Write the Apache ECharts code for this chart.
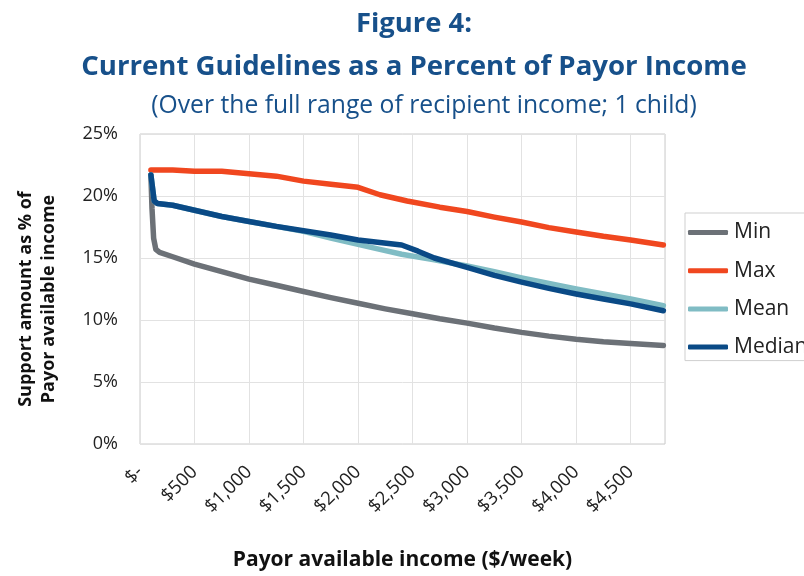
<!DOCTYPE html>
<html>
<head>
<meta charset="utf-8">
<script src="https://cdn.jsdelivr.net/npm/echarts@6/dist/echarts.min.js"></script>
<style>
  html, body { margin: 0; padding: 0; background: #ffffff; }
  #chart { width: 804px; height: 576px; }
</style>
</head>
<body>
<div id="chart"></div>
<script>
// Support as a percent of payor available income, by weekly payor income ($).
// Each series is a list of [income, percent] points.
const minSeries = [
  [100, 21.7], [110, 19.0], [125, 16.6], [145, 15.7], [180, 15.45], [300, 15.1],
  [500, 14.5], [750, 13.9], [1000, 13.3], [1250, 12.8], [1500, 12.3], [1750, 11.8],
  [2000, 11.35], [2250, 10.9], [2500, 10.5], [2750, 10.1], [3000, 9.75], [3250, 9.35],
  [3500, 9.0], [3750, 8.7], [4000, 8.45], [4250, 8.25], [4500, 8.1], [4800, 7.95]
];
const maxSeries = [
  [100, 22.1], [300, 22.1], [500, 22.0], [750, 22.0], [1000, 21.8], [1250, 21.6],
  [1500, 21.2], [1750, 20.95], [2000, 20.7], [2200, 20.1], [2450, 19.6], [2750, 19.1],
  [3000, 18.75], [3250, 18.3], [3500, 17.9], [3750, 17.45], [4000, 17.1], [4250, 16.75],
  [4500, 16.45], [4800, 16.05]
];
const meanSeries = [
  [100, 21.7], [130, 19.6], [160, 19.4], [300, 19.25], [500, 18.85], [750, 18.35],
  [1000, 17.95], [1250, 17.55], [1500, 17.15], [1750, 16.6], [2000, 16.1], [2200, 15.7],
  [2400, 15.3], [2700, 14.85], [3000, 14.35], [3250, 13.9], [3500, 13.4], [3750, 12.95],
  [4000, 12.5], [4250, 12.1], [4500, 11.7], [4800, 11.15]
];
const medianSeries = [
  [100, 21.7], [130, 19.6], [160, 19.4], [300, 19.25], [500, 18.85], [750, 18.35],
  [1000, 17.95], [1250, 17.55], [1500, 17.2], [1750, 16.85], [2000, 16.45], [2200, 16.25],
  [2400, 16.05], [2550, 15.55], [2700, 15.0], [3000, 14.25], [3250, 13.6], [3500, 13.05],
  [3750, 12.55], [4000, 12.1], [4250, 11.7], [4500, 11.3], [4800, 10.75]
];
const seriesNames = ['Min', 'Max', 'Mean', 'Median'];
const seriesColors = ['#6c7177', '#f0471f', '#80bcc4', '#0a4a86'];

const titleText = 'Figure 4:';
const subtitleText = 'Current Guidelines as a Percent of Payor Income';
const noteText = '(Over the full range of recipient income; 1 child)';
const xAxisTitle = 'Payor available income ($/week)';
const yAxisTitle = 'Support amount as % of\nPayor available income';

const FONT = '"Open Sans", "Noto Sans", sans-serif';
const chart = echarts.init(document.getElementById('chart'), null, { renderer: 'canvas' });

const seriesData = [minSeries, maxSeries, meanSeries, medianSeries];

chart.setOption({
  backgroundColor: '#ffffff',
  animation: false,
  title: [
    { text: titleText, left: 409, top: 6, textAlign: 'center',
      textStyle: { fontFamily: FONT, fontSize: 27.4, fontWeight: 'bold', color: '#17508a' } },
    { text: subtitleText, left: 409, top: 48, textAlign: 'center',
      textStyle: { fontFamily: FONT, fontSize: 27.6, fontWeight: 'bold', color: '#17508a' } },
    { text: noteText, left: 419, top: 88, textAlign: 'center',
      textStyle: { fontFamily: FONT, fontSize: 24.7, fontWeight: 'normal', color: '#17508a' } }
  ],
  legend: {
    orient: 'vertical',
    left: 685,
    top: 213,
    width: 140,
    padding: [9, 30, 3, 3],
    itemGap: 17.2,
    itemWidth: 40,
    itemHeight: 5,
    icon: 'roundRect',
    borderColor: '#cfcfcf',
    borderWidth: 1,
    textStyle: { fontFamily: FONT, fontSize: 21, color: '#222222', padding: [0, 0, 0, 1] },
    data: seriesNames
  },
  grid: { left: 140, right: 139, top: 134, bottom: 129, show: true, borderColor: '#cbcbcb', borderWidth: 1 },
  xAxis: {
    type: 'value',
    min: 0,
    max: 4815,
    interval: 500,
    name: xAxisTitle,
    nameLocation: 'middle',
    nameGap: 106,
    nameTextStyle: { fontFamily: FONT, fontSize: 21, fontWeight: 'bold', color: '#111111' },
    axisLine: { show: false },
    axisTick: { show: false },
    splitLine: { show: true, lineStyle: { color: '#e2e2e2', width: 1 } },
    axisLabel: {
      rotate: 45,
      margin: 25,
      showMaxLabel: false,
      fontFamily: FONT,
      fontSize: 18.5,
      color: '#222222',
      formatter: function (v) { return v === 0 ? '$-' : '$' + v.toLocaleString('en-US'); }
    }
  },
  yAxis: {
    type: 'value',
    min: 0,
    max: 25,
    interval: 5,
    name: yAxisTitle,
    nameLocation: 'middle',
    nameGap: 80,
    nameRotate: 90,
    nameTextStyle: { fontFamily: FONT, fontSize: 18, fontWeight: 'bold', color: '#111111',
      lineHeight: 23, padding: [0, 20, 0, 0] },
    axisLine: { show: false },
    axisTick: { show: false },
    splitLine: { show: true, lineStyle: { color: '#e2e2e2', width: 1 } },
    axisLabel: {
      margin: 22,
      fontFamily: FONT,
      fontSize: 18,
      color: '#222222',
      formatter: '{value}%'
    }
  },
  series: seriesNames.map(function (name, i) {
    return {
      name: name,
      type: 'line',
      data: seriesData[i],
      showSymbol: false,
      symbol: 'none',
      smooth: false,
      color: seriesColors[i],
      lineStyle: { width: 5.5, color: seriesColors[i], cap: 'round', join: 'round' },
      z: 2 + i
    };
  })
});
</script>
</body>
</html>
